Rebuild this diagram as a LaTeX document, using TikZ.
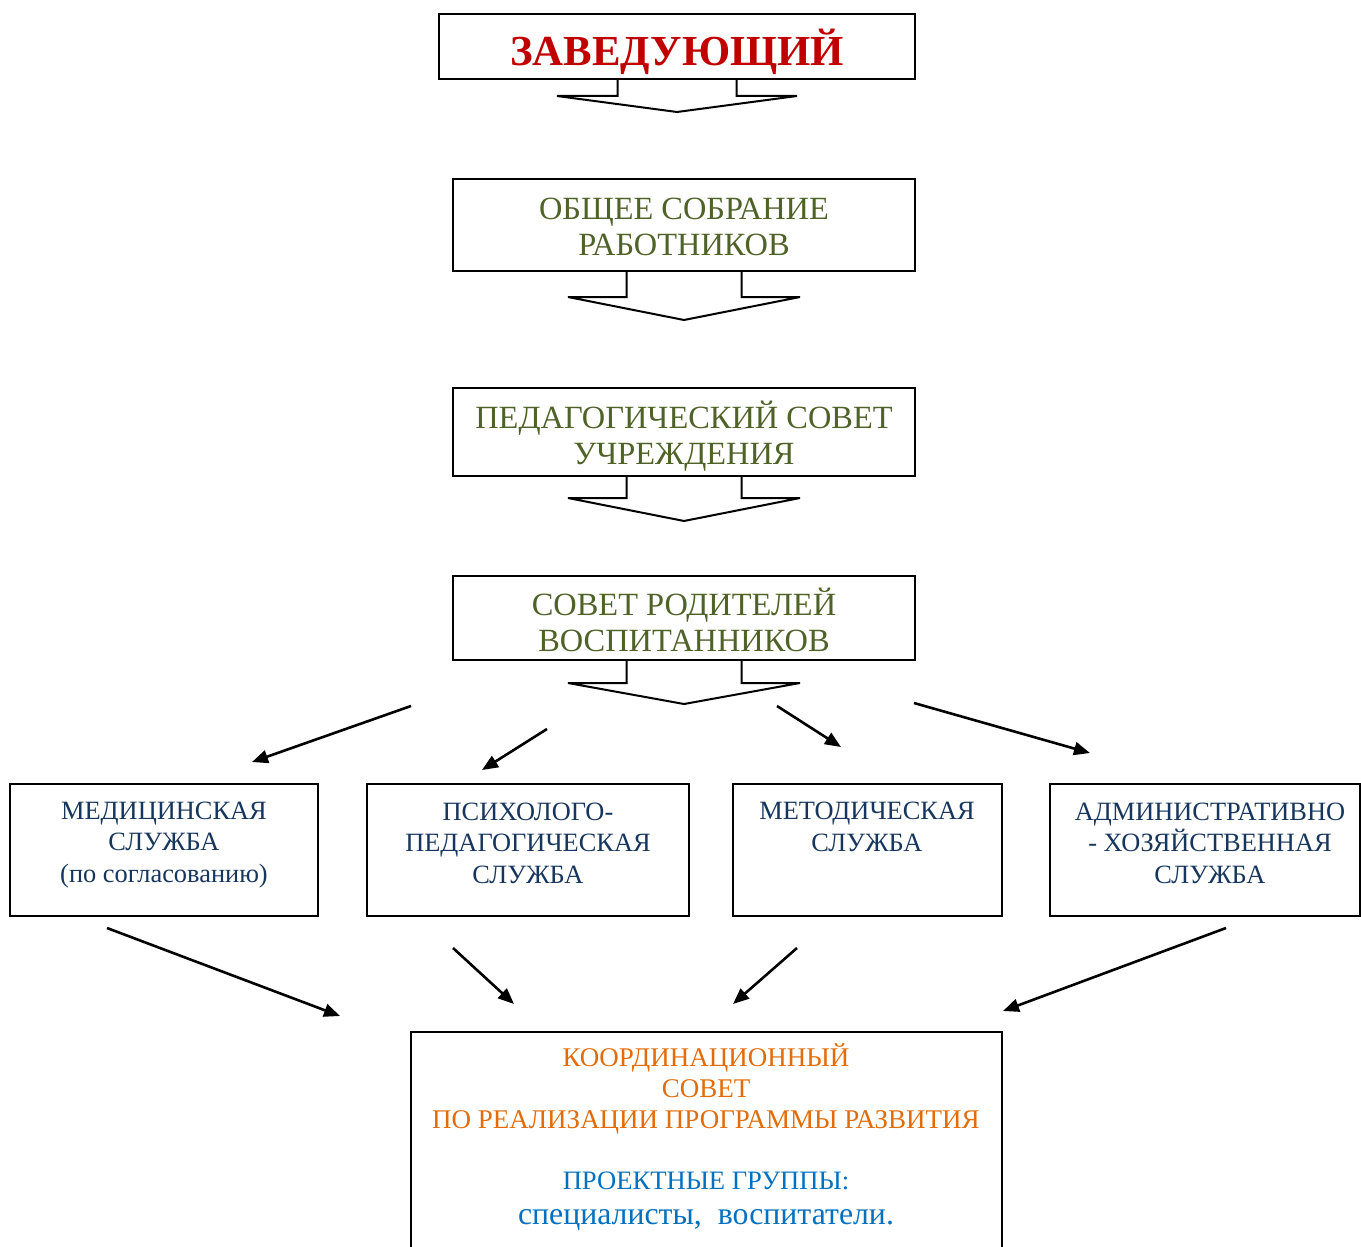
\documentclass[tikz,border=0pt]{standalone}
\usepackage{fontspec}
\setmainfont{Liberation Serif}
\usetikzlibrary{arrows.meta, positioning}

\definecolor{chiefred}{HTML}{C00000}
\definecolor{councilgreen}{HTML}{4F6228}
\definecolor{servicenavy}{HTML}{17365D}
\definecolor{coordorange}{HTML}{E36C0A}
\definecolor{groupblue}{HTML}{0070C0}

% hollow block arrow hanging under a box: node, stem half, wing half, stem height, head height
\newcommand{\blockarrow}[5]{%
  \draw[line width=1pt] ([xshift=-#2*0.5pt]#1.south) -- ++(0,#4) -- ++(#2-#3,0)
    -- ++(#3,#5) -- ++(#3,-#5) -- ++(#2-#3,0) -- ++(0,-#4);}
% lower a line of text without changing the box size
\newcommand{\lowered}[2]{\raisebox{-#1}[\height][\depth]{#2}}

\tikzset{
  council/.style={draw, line width=1pt, inner sep=0pt, align=center,
    text=councilgreen, font=\fontsize{16.2}{18}\selectfont, minimum width=231pt},
  service/.style={draw, line width=1pt, inner sep=0pt, minimum height=66pt},
  servicetext/.style={align=center, text=servicenavy, font=\fontsize{13.2}{15.7}\selectfont},
  link/.style={line width=1.3pt, -{Triangle[length=8pt, width=6.5pt]}}
}

\begin{document}
\begin{tikzpicture}[x=0.5pt, y=-0.5pt]
\useasboundingbox (0,0) rectangle (1361,1247);

% top chain
\node[draw, line width=1pt, minimum width=238pt, minimum height=32.5pt, text=chiefred,
  font=\fontsize{21.4}{25}\selectfont\bfseries] (chief) at (677,46.5) {\lowered{2.8pt}{ЗАВЕДУЮЩИЙ}};
\node[council, minimum height=46pt] (staff) at (684,225) {\lowered{0.8pt}{ОБЩЕЕ СОБРАНИЕ}\\\lowered{0.8pt}{РАБОТНИКОВ}};
\node[council, minimum height=44pt] (pedsovet) at (684,432) {\lowered{2pt}{ПЕДАГОГИЧЕСКИЙ СОВЕТ}\\\lowered{2pt}{УЧРЕЖДЕНИЯ}};
\node[council, minimum height=42pt] (parents) at (684,618) {\lowered{1pt}{СОВЕТ РОДИТЕЛЕЙ}\\\lowered{1pt}{ВОСПИТАННИКОВ}};

\blockarrow{chief}{59.5}{120}{16}{16}
\blockarrow{staff}{57.5}{116}{25}{23}
\blockarrow{pedsovet}{57.5}{116}{21}{23}
\blockarrow{parents}{57.5}{116}{22}{21}

% services
\node[service, minimum width=154pt] (medical) at (164,850) {};
\node[service, minimum width=161pt] (psych) at (528,850) {};
\node[service, minimum width=134.5pt] (method) at (867.5,850) {};
\node[service, minimum width=155pt] (admin) at (1205,850) {};

\node[servicetext] (medicaltxt) at (164,845) {МЕДИЦИНСКАЯ\\СЛУЖБА\\(по согласованию)};
\node[servicetext] (psychtxt) at (528,843) {ПСИХОЛОГО-\\ПЕДАГОГИЧЕСКАЯ\\СЛУЖБА};
\node[servicetext] (methodtxt) at (867,827) {МЕТОДИЧЕСКАЯ\\СЛУЖБА};
\node[servicetext] (admintxt) at (1210,843) {АДМИНИСТРАТИВНО\\- ХОЗЯЙСТВЕННАЯ\\СЛУЖБА};

% coordination council
\node[draw, line width=1pt, minimum width=295.5pt, minimum height=115pt] (coord) at (706.5,1147) {};
\node[align=center, text=coordorange, font=\fontsize{13.5}{15.5}\selectfont] (coordtxt) at (706,1089)
  {КООРДИНАЦИОННЫЙ\\СОВЕТ\\ПО РЕАЛИЗАЦИИ ПРОГРАММЫ РАЗВИТИЯ};
\node[text=groupblue, font=\fontsize{13.3}{15.5}\selectfont] (groupstxt) at (706,1181) {ПРОЕКТНЫЕ ГРУППЫ:};
\node[text=groupblue, font=\fontsize{15.9}{18}\selectfont] (memberstxt) at (706,1220) {специалисты,\ \ воспитатели.};

% arrow ends
\coordinate (p1) at (411,706); \coordinate (q1) at (252,762);
\coordinate (p2) at (547,729); \coordinate (q2) at (482,770);
\coordinate (p3) at (777,706); \coordinate (q3) at (841,747);
\coordinate (p4) at (914,703); \coordinate (q4) at (1090,753);
\coordinate (r1) at (107,928); \coordinate (s1) at (340,1016);
\coordinate (r2) at (453,948); \coordinate (s2) at (514,1004);
\coordinate (r3) at (797,948); \coordinate (s3) at (733,1004);
\coordinate (r4) at (1226,928); \coordinate (s4) at (1003,1011);

\draw[link] (p1) -- (q1);
\draw[link] (p2) -- (q2);
\draw[link] (p3) -- (q3);
\draw[link] (p4) -- (q4);
\draw[link] (r1) -- (s1);
\draw[link] (r2) -- (s2);
\draw[link] (r3) -- (s3);
\draw[link] (r4) -- (s4);
\end{tikzpicture}
\end{document}
